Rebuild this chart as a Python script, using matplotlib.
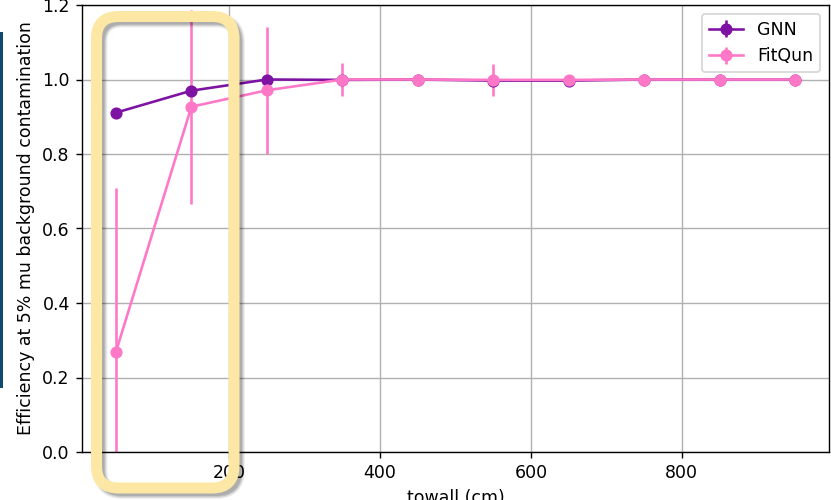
import numpy as np
import matplotlib
matplotlib.use("Agg")
import matplotlib.pyplot as plt
from matplotlib.patches import FancyBboxPatch, Rectangle
import matplotlib.transforms as mtransforms

# towall bin centres (cm)
towall = [50, 150, 250, 350, 450, 550, 650, 750, 850, 950]

# efficiency at 5% mu background contamination
gnn_eff = [0.911, 0.970, 1.000, 0.999, 1.000, 0.997, 0.997, 1.000, 1.000, 1.000]
gnn_err = [0.005, 0.004, 0.002, 0.002, 0.001, 0.002, 0.002, 0.001, 0.001, 0.001]
fq_eff = [0.269, 0.927, 0.971, 1.000, 1.000, 0.999, 0.999, 1.000, 1.000, 1.000]
fq_err = [0.440, 0.260, 0.170, 0.043, 0.005, 0.042, 0.004, 0.003, 0.002, 0.002]

W, H, DPI = 831, 500, 125
fig = plt.figure(figsize=(W / DPI, H / DPI), dpi=DPI)
ax = fig.add_axes([82 / W, 1 - 452 / H, (829 - 82) / W, (452 - 5) / H])

ax.errorbar(towall, gnn_eff, yerr=gnn_err, fmt='o-', color='#7e12a3', label='GNN')
ax.errorbar(towall, fq_eff, yerr=fq_err, fmt='o-', color='#ff78c8', label='FitQun')
ax.set_ylim(0, 1.2)
ax.set_xlabel('towall (cm)')
ax.set_ylabel('Efficiency at 5% mu background contamination')
ax.grid(True)
ax.legend(loc='upper right')

# slide decorations: dark side bar and highlight box
px = mtransforms.IdentityTransform()
fig.patches.append(Rectangle((0, H - 388), 3, 388 - 32, transform=px,
                             facecolor='#0d4a6c', edgecolor='none'))

x0, x1, y0, y1 = 96.5, 234, H - 488, H - 16.5
for i, (lw, a) in enumerate([(14, 0.06), (12, 0.08), (10, 0.10), (8, 0.12)]):
    fig.patches.append(FancyBboxPatch((x0 + 4, y0 - 4), x1 - x0, y1 - y0,
                                      boxstyle='round,pad=0,rounding_size=22',
                                      transform=px, facecolor='none',
                                      edgecolor='black', alpha=a,
                                      linewidth=lw * 72 / DPI, zorder=10))
fig.patches.append(FancyBboxPatch((x0, y0), x1 - x0, y1 - y0,
                                  boxstyle='round,pad=0,rounding_size=22',
                                  transform=px, facecolor='none',
                                  edgecolor='#fce8a4', linewidth=11 * 72 / DPI,
                                  zorder=11))

fig.savefig('out.png', dpi=DPI)
